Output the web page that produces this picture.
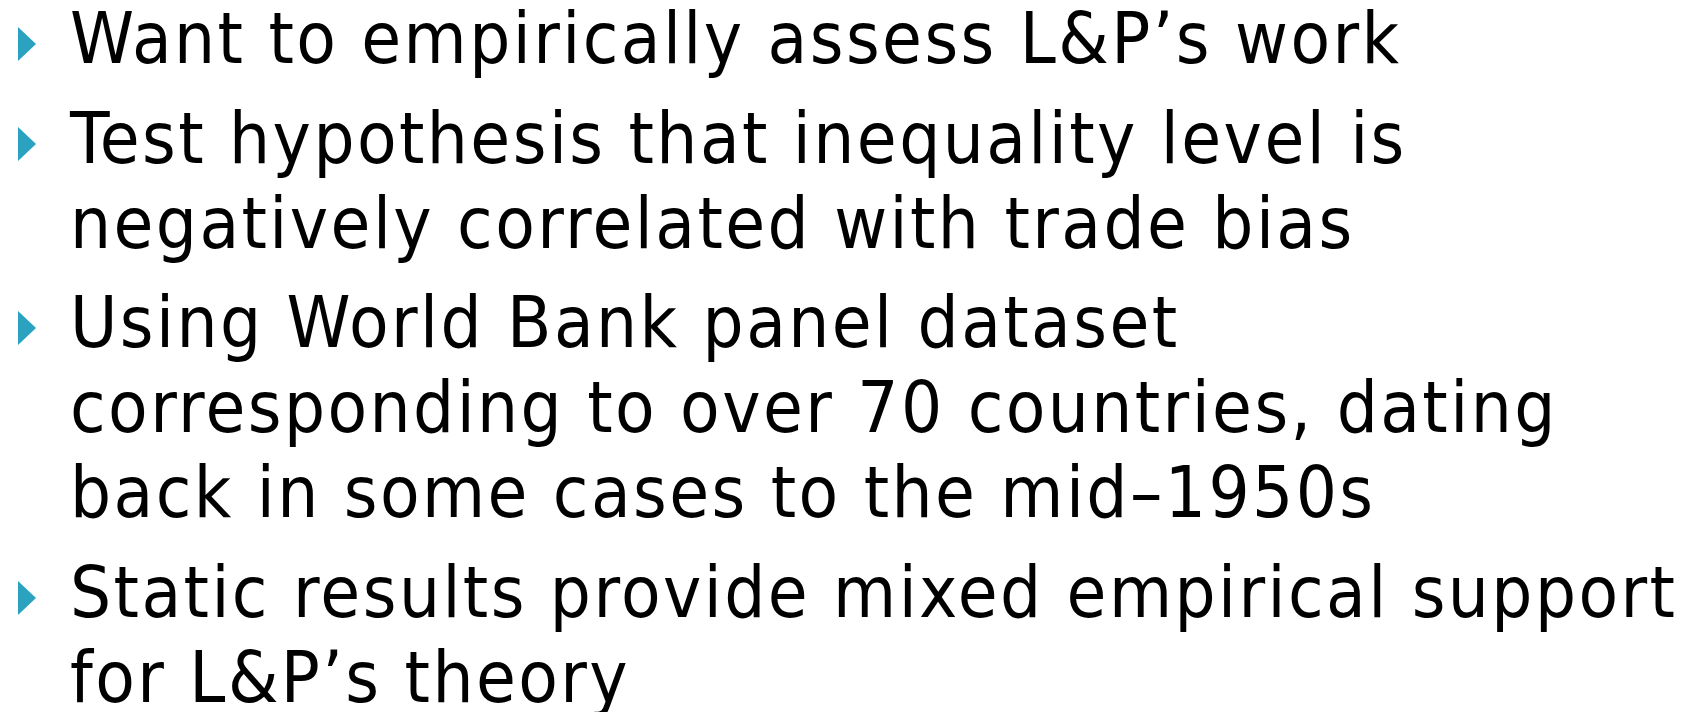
<!DOCTYPE html>
<html>
<head>
<meta charset="utf-8">
<script src="https://cdn.jsdelivr.net/npm/chart.js@4"></script>
<style>
    html, body { margin: 0; padding: 0; background: #fff; }
    #slide { position: relative; width: 1700px; height: 712px; overflow: hidden; }
    .line { position: absolute; white-space: pre; color: #000; }
    .bullet { position: absolute; width: 0; height: 0; border-style: solid; border-color: transparent transparent transparent #2ba2bf; }
</style>
</head>
<body>
<div id="slide"></div>
<script>
// slide text, one array per bullet, wrapped as in the picture
const bullet1 = ["Want to empirically assess L&P\u2019s work"];
const bullet2 = ["Test hypothesis that inequality level is", "negatively correlated with trade bias"];
const bullet3 = ["Using World Bank panel dataset", "corresponding to over 70 countries, dating", "back in some cases to the mid\u20131950s"];
const bullet4 = ["Static results provide mixed empirical support", "for L&P\u2019s theory"];
const bullets = [bullet1, bullet2, bullet3, bullet4];

const fontFamily = "'DejaVu Sans Condensed', 'DejaVu Sans', sans-serif";
const fontSize = 72;
const lineHeight = 60;
const textLeft = 70;
const textRight = 1675;     // right edge of the widest line
const firstBaseline = 63;
const lineStep = 85;
const paraGap = 14.5;
const markerLeft = 18;
const markerW = 18;
const markerH = 34;
const markerLift = 2;

const slide = document.getElementById("slide");
const ctx = document.createElement("canvas").getContext("2d");
ctx.font = `condensed ${fontSize}px ${fontFamily}`;
const probe = ctx.measureText("Hg");
const ascent = probe.fontBoundingBoxAscent;
const descent = probe.fontBoundingBoxDescent;
const baseOffset = (lineHeight - ascent - descent) / 2 + ascent;

// spread the letters so the widest line spans the same width as in the picture
const allLines = bullets.flat();
const widths = allLines.map((t) => ctx.measureText(t).width);
const w = Math.max(...widths);
const longest = allLines[widths.indexOf(w)];
const spacing = (textRight - textLeft - w) / (longest.length - 1);

let baseline = firstBaseline;
bullets.forEach((lines, b) => {
    if (b > 0) {
        baseline += paraGap;
    }
    const marker = document.createElement("div");
    marker.className = "bullet";
    marker.style.left = markerLeft + "px";
    marker.style.top = (baseline - markerLift - markerH) + "px";
    marker.style.borderWidth = `${markerH / 2}px 0 ${markerH / 2}px ${markerW}px`;
    slide.appendChild(marker);

    lines.forEach((text) => {
        const el = document.createElement("div");
        el.className = "line";
        el.textContent = text;
        el.style.fontFamily = fontFamily;
        el.style.fontStretch = "condensed";
        el.style.fontSize = fontSize + "px";
        el.style.letterSpacing = spacing + "px";
        el.style.lineHeight = lineHeight + "px";
        el.style.left = textLeft + "px";
        el.style.top = (baseline - baseOffset) + "px";
        slide.appendChild(el);
        baseline += lineStep;
    });
});
</script>
</body>
</html>
